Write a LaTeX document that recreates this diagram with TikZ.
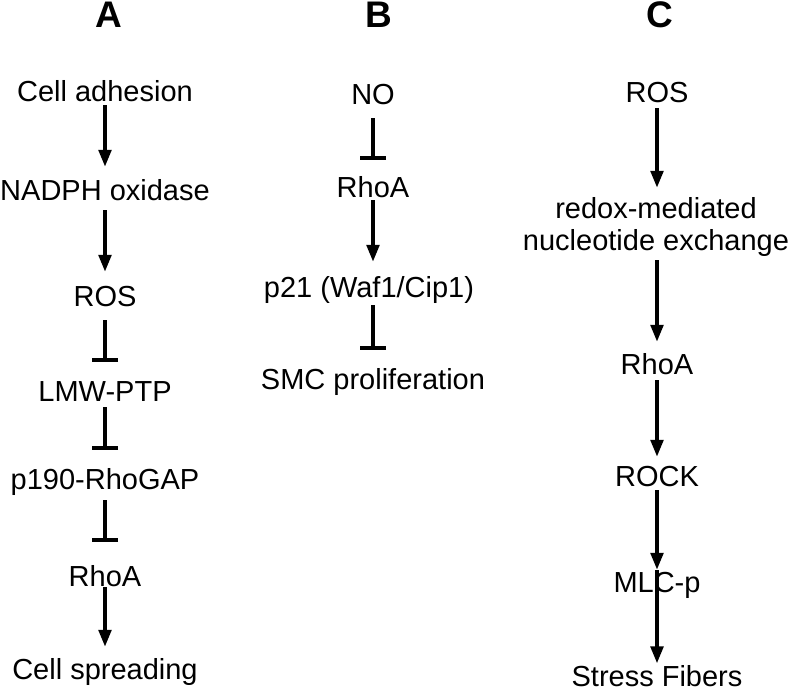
\documentclass[tikz,border=0pt]{standalone}
\usepackage{fontspec}
\setmainfont{Liberation Sans}
\usetikzlibrary{arrows.meta}

\begin{document}
\begin{tikzpicture}[x=1pt, y=-1pt,
    lbl/.style={inner sep=0pt, text height=20.8pt, text depth=0pt, font=\fontsize{29}{32}\selectfont},
    hdr/.style={inner sep=0pt, text height=26.5pt, text depth=0pt, font=\fontsize{37}{40}\selectfont\bfseries},
    act/.style={line width=3.8pt, -{Triangle[length=17pt,width=12.5pt]}},
    inh/.style={line width=3.8pt, -{Bar[width=26pt]}}]
    \useasboundingbox (0,0) rectangle (792,691);

    % headers
    \node[hdr] (hA) at (109,14.5) {A};
    \node[hdr] (hB) at (379,14.5) {B};
    \node[hdr] (hC) at (660,14.5) {C};

    % A
    \node[lbl] (adh) at (105,91) {Cell adhesion};
    \node[lbl] (nox) at (105,190) {NADPH oxidase};
    \node[lbl] (rosA) at (105,296) {ROS};
    \node[lbl] (lmw) at (105,391) {LMW-PTP};
    \node[lbl] (gap) at (105,479) {p190-RhoGAP};
    \node[lbl] (rhoA) at (105,576) {RhoA};
    \node[lbl] (spr) at (105,669) {Cell spreading};
    \draw[act, shorten <=3.6pt, shorten >=12.6pt] (adh) -- (nox);
    \draw[act, shorten <=9.6pt, shorten >=13.6pt] (nox) -- (rosA);
    \draw[inh, shorten <=13.6pt, shorten >=18.6pt] (rosA) -- (lmw);
    \draw[inh, shorten <=5.6pt, shorten >=18.6pt] (lmw) -- (gap);
    \draw[inh, shorten <=10.6pt, shorten >=23.6pt] (gap) -- (rhoA);
    \draw[act, shorten <=0.6pt, shorten >=11.6pt] (rhoA) -- (spr);

    % B
    \node[lbl] (no) at (373,94) {NO};
    \node[lbl] (rhoB) at (373,187) {RhoA};
    \node[lbl] (p21) at (369,287) {p21 (Waf1/Cip1)};
    \node[lbl] (smc) at (373,379) {SMC proliferation};
    \draw[inh, shorten <=13.6pt, shorten >=16.6pt] (no) -- (rhoB);
    \draw[act, shorten <=2.6pt, shorten >=14.6pt] (rhoB) -- (p21.north -| rhoB);
    \draw[inh, shorten <=7.6pt, shorten >=18.6pt] (p21.south -| smc) -- (smc);

    % C
    \node[lbl] (rosC) at (657,92) {ROS};
    \node[inner sep=0pt, text depth=0pt, align=center, font=\fontsize{29}{32}\selectfont]
        (redox) at (656,223.5) {redox-mediated\\nucleotide exchange};
    \node[lbl] (rhoC) at (657,364) {RhoA};
    \node[lbl] (rock) at (657,476) {ROCK};
    \node[lbl] (mlc) at (657,582) {MLC-p};
    \node[lbl] (fib) at (657,676) {Stress Fibers};
    \draw[act, shorten <=5.6pt, shorten >=9pt] (rosC) -- (redox.north -| rosC);
    \draw[act, shorten <=10pt, shorten >=11.6pt] (redox.south -| rhoC) -- (rhoC);
    \draw[act, shorten <=5.6pt, shorten >=8.6pt] (rhoC) -- (rock);
    \draw[act, shorten <=3.6pt, shorten >=1.6pt] (rock) -- (mlc);
    \draw[act, shorten <=-1.6pt, shorten >=2pt] (mlc.north) -- (fib);
\end{tikzpicture}
\end{document}
